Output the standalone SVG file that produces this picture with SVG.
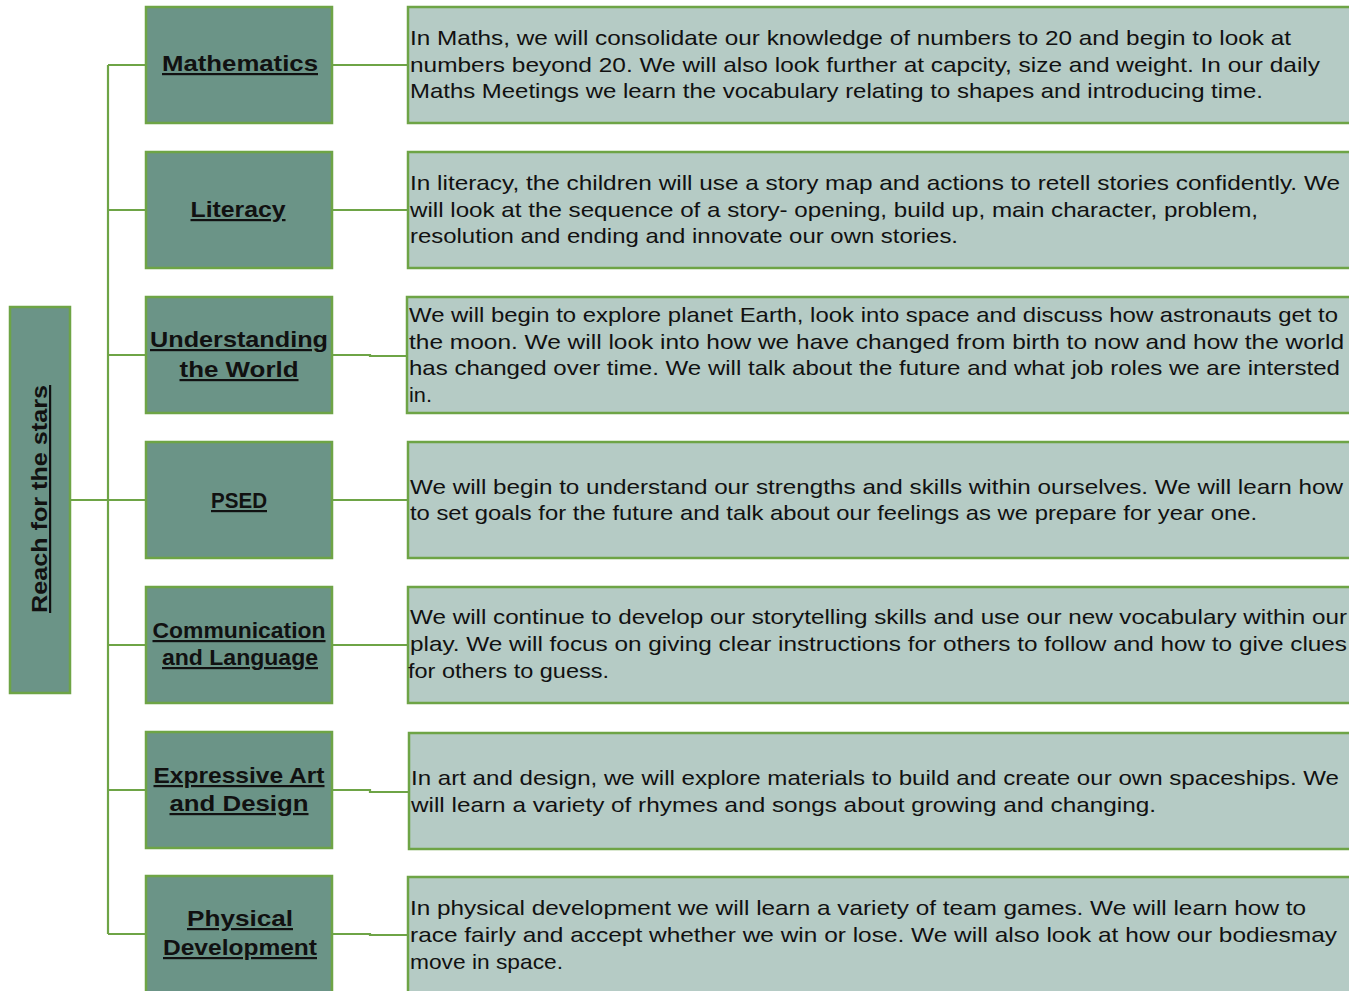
<svg xmlns="http://www.w3.org/2000/svg" width="1349" height="991" viewBox="0 0 1349 991">
<style>
.bg{fill:#ffffff}
.head{fill:#6b9487;stroke:#6ea446;stroke-width:2.5}
.desc{fill:#b5cbc5;stroke:#6ea446;stroke-width:2.5}
.conn{fill:none;stroke:#6ea446;stroke-width:2.2}
.ht{font-family:"Liberation Sans",Arial,sans-serif;font-weight:bold;font-size:22px;fill:#111;text-decoration:underline;text-anchor:middle}
.dt{font-family:"Liberation Sans",Arial,sans-serif;font-size:21px;fill:#111}
</style>
<rect class="bg" x="0" y="0" width="1349" height="991"/>
<g id="connectors">
<polyline class="conn" points="70,500 108,500"/>
<polyline class="conn" points="108,65 108,934"/>
<polyline class="conn" points="108,65 146,65"/>
<polyline class="conn" points="108,210 146,210"/>
<polyline class="conn" points="108,355 146,355"/>
<polyline class="conn" points="108,500 146,500"/>
<polyline class="conn" points="108,645 146,645"/>
<polyline class="conn" points="108,790 146,790"/>
<polyline class="conn" points="108,934 146,934"/>
<polyline class="conn" points="332,65 408,65"/>
<polyline class="conn" points="332,210 408,210"/>
<polyline class="conn" points="332,355 370,355 370,356 407,356"/>
<polyline class="conn" points="332,500 408,500"/>
<polyline class="conn" points="332,645 408,645"/>
<polyline class="conn" points="332,790 370,790 370,792 409,792"/>
<polyline class="conn" points="332,934 370,934 370,935 408,935"/>
</g>
<g id="root">
<rect class="head" x="10" y="307" width="60" height="386"/>
<text class="ht" transform="translate(47,499) rotate(-90)" x="0" y="0" font-weight="bold" textLength="228" lengthAdjust="spacingAndGlyphs">Reach for the stars</text>
</g>
<g id="mathematics">
<rect class="head" x="146" y="7" width="186" height="116"/>
<text class="ht" x="240" y="71" textLength="156" lengthAdjust="spacingAndGlyphs">Mathematics</text>
</g>
<g id="mathematics-desc">
<rect class="desc" x="408" y="7" width="945" height="116"/>
<text class="dt" x="410" y="45" textLength="881" lengthAdjust="spacingAndGlyphs">In Maths, we will consolidate our knowledge of numbers to 20 and begin to look at</text>
<text class="dt" x="410" y="72" textLength="910" lengthAdjust="spacingAndGlyphs">numbers beyond 20. We will also look further at capcity, size and weight. In our daily</text>
<text class="dt" x="410" y="98" textLength="853" lengthAdjust="spacingAndGlyphs">Maths Meetings we learn the vocabulary relating to shapes and introducing time.</text>
</g>
<g id="literacy">
<rect class="head" x="146" y="152" width="186" height="116"/>
<text class="ht" x="238" y="217" textLength="95" lengthAdjust="spacingAndGlyphs">Literacy</text>
</g>
<g id="literacy-desc">
<rect class="desc" x="408" y="152" width="945" height="116"/>
<text class="dt" x="410" y="190" textLength="930" lengthAdjust="spacingAndGlyphs">In literacy, the children will use a story map and actions to retell stories confidently. We</text>
<text class="dt" x="410" y="217" textLength="848" lengthAdjust="spacingAndGlyphs">will look at the sequence of a story- opening, build up, main character, problem,</text>
<text class="dt" x="410" y="243" textLength="548" lengthAdjust="spacingAndGlyphs">resolution and ending and innovate our own stories.</text>
</g>
<g id="understanding-the-world">
<rect class="head" x="146" y="297" width="186" height="116"/>
<text class="ht" x="239" y="347" textLength="178" lengthAdjust="spacingAndGlyphs">Understanding</text>
<text class="ht" x="239" y="377" textLength="119" lengthAdjust="spacingAndGlyphs">the World</text>
</g>
<g id="understanding-the-world-desc">
<rect class="desc" x="407" y="297" width="946" height="116"/>
<text class="dt" x="409" y="322" textLength="929" lengthAdjust="spacingAndGlyphs">We will begin to explore planet Earth, look into space and discuss how astronauts get to</text>
<text class="dt" x="409" y="349" textLength="935" lengthAdjust="spacingAndGlyphs">the moon. We will look into how we have changed from birth to now and how the world</text>
<text class="dt" x="409" y="375" textLength="931" lengthAdjust="spacingAndGlyphs">has changed over time. We will talk about the future and what job roles we are intersted</text>
<text class="dt" x="409" y="402" textLength="23" lengthAdjust="spacingAndGlyphs">in.</text>
</g>
<g id="psed">
<rect class="head" x="146" y="442" width="186" height="116"/>
<text class="ht" x="239" y="508" textLength="56" lengthAdjust="spacingAndGlyphs">PSED</text>
</g>
<g id="psed-desc">
<rect class="desc" x="408" y="442" width="945" height="116"/>
<text class="dt" x="410" y="494" textLength="933" lengthAdjust="spacingAndGlyphs">We will begin to understand our strengths and skills within ourselves. We will learn how</text>
<text class="dt" x="410" y="520" textLength="847" lengthAdjust="spacingAndGlyphs">to set goals for the future and talk about our feelings as we prepare for year one.</text>
</g>
<g id="communication-and-language">
<rect class="head" x="146" y="587" width="186" height="116"/>
<text class="ht" x="239" y="638" font-size="20px" textLength="173" lengthAdjust="spacingAndGlyphs">Communication</text>
<text class="ht" x="240" y="665" font-size="20px" textLength="156" lengthAdjust="spacingAndGlyphs">and Language</text>
</g>
<g id="communication-and-language-desc">
<rect class="desc" x="408" y="587" width="945" height="116"/>
<text class="dt" x="410" y="624" textLength="937" lengthAdjust="spacingAndGlyphs">We will continue to develop our storytelling skills and use our new vocabulary within our</text>
<text class="dt" x="410" y="651" textLength="937" lengthAdjust="spacingAndGlyphs">play. We will focus on giving clear instructions for others to follow and how to give clues</text>
<text class="dt" x="408" y="678" textLength="201" lengthAdjust="spacingAndGlyphs">for others to guess.</text>
</g>
<g id="expressive-art-and-design">
<rect class="head" x="146" y="732" width="186" height="116"/>
<text class="ht" x="239" y="783" textLength="171" lengthAdjust="spacingAndGlyphs">Expressive Art</text>
<text class="ht" x="239" y="811" textLength="139" lengthAdjust="spacingAndGlyphs">and Design</text>
</g>
<g id="expressive-art-and-design-desc">
<rect class="desc" x="409" y="733" width="944" height="116"/>
<text class="dt" x="411" y="785" textLength="928" lengthAdjust="spacingAndGlyphs">In art and design, we will explore materials to build and create our own spaceships. We</text>
<text class="dt" x="411" y="812" textLength="745" lengthAdjust="spacingAndGlyphs">will learn a variety of rhymes and songs about growing and changing.</text>
</g>
<g id="physical-development">
<rect class="head" x="146" y="876" width="186" height="120"/>
<text class="ht" x="240" y="926" textLength="106" lengthAdjust="spacingAndGlyphs">Physical</text>
<text class="ht" x="240" y="955" textLength="154" lengthAdjust="spacingAndGlyphs">Development</text>
</g>
<g id="physical-development-desc">
<rect class="desc" x="408" y="877" width="945" height="120"/>
<text class="dt" x="410" y="915" textLength="896" lengthAdjust="spacingAndGlyphs">In physical development we will learn a variety of team games. We will learn how to</text>
<text class="dt" x="410" y="942" textLength="927" lengthAdjust="spacingAndGlyphs">race fairly and accept whether we win or lose.  We will also look at how our bodiesmay</text>
<text class="dt" x="410" y="969" textLength="153" lengthAdjust="spacingAndGlyphs">move in space.</text>
</g>
</svg>
